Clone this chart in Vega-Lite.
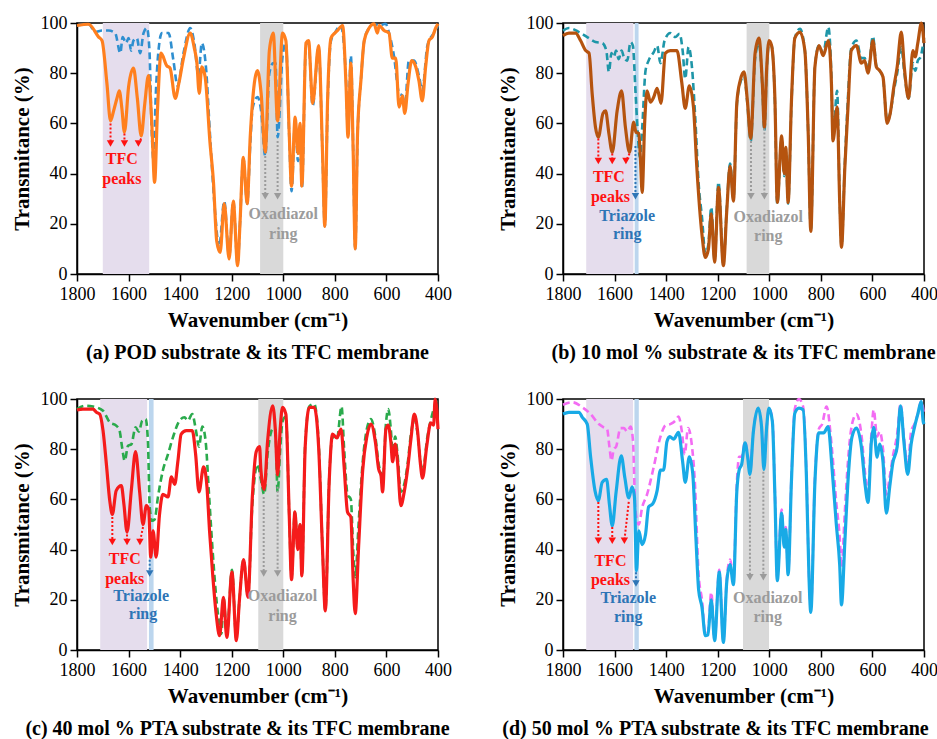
{
"$schema":"https://vega.github.io/schema/vega-lite/v6.json",
"padding":{"left":10,"top":13,"right":5,"bottom":0},
"background":"white",
"config":{
 "font":"Liberation Serif, Times New Roman, serif",
 "view":{"stroke":"black","strokeWidth":1.5},
 "axis":{"grid":false,"domainColor":"black","domainWidth":1.5,"tickColor":"black","tickWidth":1.5,"tickSize":7,"labelFont":"Liberation Serif, Times New Roman, serif","labelFontSize":18,"labelColor":"black","labelFlush":false,"titleFont":"Liberation Serif, Times New Roman, serif","titleFontSize":21,"titleFontWeight":"bold","titleColor":"black","format":"d"},
 "title":{"font":"Liberation Serif, Times New Roman, serif","fontSize":20,"fontWeight":"bold","color":"black"},
 "text":{"font":"Liberation Serif, Times New Roman, serif"},
 "line":{"interpolate":"monotone"}
},
"datasets":{
"bands":[
 {"p":"a","k":"P","a":1700,"b":1520},{"p":"a","k":"G","a":1090,"b":1000},
 {"p":"b","k":"P","a":1710,"b":1527},{"p":"b","k":"B","a":1522,"b":1507},{"p":"b","k":"G","a":1088,"b":1000},
 {"p":"c","k":"P","a":1710,"b":1528},{"p":"c","k":"B","a":1521,"b":1503},{"p":"c","k":"G","a":1097,"b":1000},
 {"p":"d","k":"P","a":1710,"b":1528},{"p":"d","k":"B","a":1523,"b":1506},{"p":"d","k":"G","a":1102,"b":1001}
],
"arrows":[
 {"p":"a","k":"tfc","x":1670,"y":60,"x2":1670,"y2":52},{"p":"a","k":"tfc","x":1616,"y":56,"x2":1616,"y2":52},{"p":"a","k":"tfc","x":1551,"y":54,"x2":1562,"y2":52},
 {"p":"a","k":"oxa","x":1070,"y":47,"x2":1070,"y2":31},{"p":"a","k":"oxa","x":1022,"y":53,"x2":1022,"y2":31},
 {"p":"b","k":"tfc","x":1663,"y":54,"x2":1663,"y2":45},{"p":"b","k":"tfc","x":1609,"y":48,"x2":1609,"y2":45},{"p":"b","k":"tfc","x":1542,"y":48,"x2":1556,"y2":45},
 {"p":"b","k":"tri","x":1519,"y":51,"x2":1519,"y2":31},
 {"p":"b","k":"oxa","x":1071,"y":53,"x2":1071,"y2":31},{"p":"b","k":"oxa","x":1019,"y":58,"x2":1019,"y2":31},
 {"p":"c","k":"tfc","x":1663,"y":53,"x2":1663,"y2":43},{"p":"c","k":"tfc","x":1606,"y":46,"x2":1606,"y2":43},{"p":"c","k":"tfc","x":1544,"y":49,"x2":1556,"y2":43},
 {"p":"c","k":"tri","x":1518,"y":36,"x2":1518,"y2":30.5},
 {"p":"c","k":"oxa","x":1076,"y":61,"x2":1076,"y2":30.5},{"p":"c","k":"oxa","x":1022,"y":65,"x2":1022,"y2":30.5},
 {"p":"d","k":"tfc","x":1663,"y":59,"x2":1663,"y2":43.5},{"p":"d","k":"tfc","x":1609,"y":49,"x2":1609,"y2":43.5},{"p":"d","k":"tfc","x":1545,"y":59,"x2":1562,"y2":43.5},
 {"p":"d","k":"tri","x":1517,"y":31,"x2":1517,"y2":26.5},
 {"p":"d","k":"oxa","x":1075,"y":69,"x2":1075,"y2":29},{"p":"d","k":"oxa","x":1023,"y":71,"x2":1023,"y2":29}
],
"labels":[
 {"p":"a","k":"tfc","x":1626,"y":46,"t":"TFC"},{"p":"a","k":"tfc","x":1626,"y":38,"t":"peaks"},
 {"p":"a","k":"oxa","x":1000,"y":24,"t":"Oxadiazol"},{"p":"a","k":"oxa","x":1000,"y":16,"t":"ring"},
 {"p":"b","k":"tfc","x":1622,"y":38.6,"t":"TFC"},{"p":"b","k":"tfc","x":1616,"y":30.6,"t":"peaks"},
 {"p":"b","k":"tri","x":1551,"y":23.3,"t":"Triazole"},{"p":"b","k":"tri","x":1551,"y":16,"t":"ring"},
 {"p":"b","k":"oxa","x":1004,"y":22.6,"t":"Oxadiazol"},{"p":"b","k":"oxa","x":1004,"y":15.3,"t":"ring"},
 {"p":"c","k":"tfc","x":1615,"y":36.3,"t":"TFC"},{"p":"c","k":"tfc","x":1615,"y":28.3,"t":"peaks"},
 {"p":"c","k":"tri","x":1551,"y":21.6,"t":"Triazole"},{"p":"c","k":"tri","x":1544,"y":14.3,"t":"ring"},
 {"p":"c","k":"oxa","x":1003,"y":21.6,"t":"Oxadiazol"},{"p":"c","k":"oxa","x":1003,"y":13.7,"t":"ring"},
 {"p":"d","k":"tfc","x":1616,"y":35.6,"t":"TFC"},{"p":"d","k":"tfc","x":1616,"y":28,"t":"peaks"},
 {"p":"d","k":"tri","x":1547,"y":20.6,"t":"Triazole"},{"p":"d","k":"tri","x":1547,"y":13,"t":"ring"},
 {"p":"d","k":"oxa","x":1006,"y":20.9,"t":"Oxadiazol"},{"p":"d","k":"oxa","x":1006,"y":13.3,"t":"ring"}
],
"aT":[{"x":1800,"y":99},{"x":1755,"y":99.5},{"x":1716,"y":94.4},{"x":1703,"y":93},{"x":1684,"y":76},{"x":1670,"y":61},{"x":1658,"y":65},{"x":1645,"y":70},{"x":1636,"y":73},{"x":1626,"y":66},{"x":1616,"y":56.5},{"x":1600,"y":74.5},{"x":1581,"y":82},{"x":1566,"y":70},{"x":1551,"y":55},{"x":1537,"y":68},{"x":1523,"y":79},{"x":1510,"y":60},{"x":1499,"y":36.5},{"x":1488,"y":65},{"x":1474,"y":88},{"x":1452,"y":83},{"x":1439,"y":82},{"x":1419,"y":70},{"x":1405,"y":76},{"x":1387,"y":86},{"x":1361,"y":96},{"x":1345,"y":90},{"x":1335,"y":84},{"x":1326,"y":72},{"x":1316,"y":82.5},{"x":1303,"y":78.5},{"x":1284,"y":52},{"x":1271,"y":37},{"x":1258,"y":13},{"x":1245,"y":8.6},{"x":1229,"y":28},{"x":1210,"y":6},{"x":1194,"y":29},{"x":1177,"y":3.3},{"x":1168,"y":20},{"x":1155,"y":46.5},{"x":1140,"y":28},{"x":1128,"y":55},{"x":1119,"y":69},{"x":1100,"y":81},{"x":1086,"y":72},{"x":1070,"y":48.5},{"x":1054,"y":89},{"x":1039,"y":96},{"x":1022,"y":61},{"x":1003,"y":96},{"x":990,"y":93},{"x":977,"y":56},{"x":968,"y":35},{"x":954,"y":62.5},{"x":943,"y":48},{"x":935,"y":60},{"x":928,"y":35},{"x":912,"y":92},{"x":902,"y":93},{"x":886,"y":68},{"x":863,"y":91},{"x":848,"y":49},{"x":839,"y":19},{"x":828,"y":70},{"x":815,"y":94},{"x":800,"y":96},{"x":790,"y":97},{"x":770,"y":99},{"x":757,"y":76},{"x":749,"y":54.5},{"x":738,"y":84},{"x":729,"y":49},{"x":721,"y":10},{"x":712,"y":56},{"x":699,"y":77},{"x":686,"y":93},{"x":667,"y":98},{"x":648,"y":99.7},{"x":635,"y":96},{"x":628,"y":99},{"x":609,"y":97},{"x":590,"y":96},{"x":577,"y":86},{"x":564,"y":86},{"x":551,"y":66.5},{"x":538,"y":71},{"x":529,"y":64},{"x":516,"y":76},{"x":502,"y":85},{"x":486,"y":82.5},{"x":474,"y":77},{"x":461,"y":69},{"x":448,"y":82.5},{"x":435,"y":93},{"x":422,"y":94.4},{"x":409,"y":98},{"x":400,"y":99.7}],
"aS":[{"x":1800,"y":99},{"x":1755,"y":99.5},{"x":1729,"y":96.4},{"x":1703,"y":97},{"x":1677,"y":97},{"x":1652,"y":96},{"x":1632,"y":88},{"x":1623,"y":94.4},{"x":1610,"y":92},{"x":1600,"y":94},{"x":1590,"y":89},{"x":1581,"y":93},{"x":1568,"y":94},{"x":1555,"y":88},{"x":1542,"y":96},{"x":1529,"y":98},{"x":1519,"y":89},{"x":1510,"y":56},{"x":1503,"y":45},{"x":1495,"y":70},{"x":1483,"y":90},{"x":1471,"y":96},{"x":1445,"y":96},{"x":1426,"y":85},{"x":1410,"y":75},{"x":1387,"y":88},{"x":1361,"y":98},{"x":1345,"y":92},{"x":1329,"y":79},{"x":1316,"y":92},{"x":1300,"y":82.5},{"x":1284,"y":55},{"x":1264,"y":24},{"x":1249,"y":10.5},{"x":1229,"y":29},{"x":1210,"y":7},{"x":1194,"y":29},{"x":1177,"y":4},{"x":1168,"y":20},{"x":1155,"y":46},{"x":1140,"y":28},{"x":1128,"y":52},{"x":1119,"y":66},{"x":1100,"y":70.5},{"x":1086,"y":65},{"x":1070,"y":47},{"x":1054,"y":80},{"x":1039,"y":84},{"x":1030,"y":84},{"x":1022,"y":54.5},{"x":1003,"y":86.5},{"x":990,"y":92},{"x":977,"y":55},{"x":968,"y":33},{"x":954,"y":61},{"x":943,"y":45},{"x":935,"y":58},{"x":928,"y":34},{"x":912,"y":91},{"x":902,"y":92},{"x":886,"y":67},{"x":863,"y":90},{"x":848,"y":48},{"x":839,"y":19},{"x":828,"y":68},{"x":815,"y":93},{"x":800,"y":96},{"x":777,"y":99},{"x":757,"y":78},{"x":749,"y":56},{"x":738,"y":87},{"x":729,"y":50},{"x":721,"y":10},{"x":712,"y":55},{"x":699,"y":77},{"x":686,"y":93},{"x":667,"y":98},{"x":648,"y":99.5},{"x":628,"y":99},{"x":603,"y":99.7},{"x":590,"y":96},{"x":571,"y":87},{"x":551,"y":72},{"x":538,"y":71},{"x":529,"y":66},{"x":513,"y":85},{"x":493,"y":85},{"x":474,"y":79},{"x":461,"y":73},{"x":441,"y":91},{"x":416,"y":96},{"x":400,"y":99}],
"bT":[{"x":1800,"y":95},{"x":1777,"y":96},{"x":1751,"y":96},{"x":1732,"y":93},{"x":1712,"y":89},{"x":1699,"y":88},{"x":1687,"y":72},{"x":1674,"y":58.5},{"x":1663,"y":54.5},{"x":1645,"y":64},{"x":1635,"y":65},{"x":1622,"y":56},{"x":1609,"y":48.5},{"x":1590,"y":65},{"x":1573,"y":73},{"x":1558,"y":58.5},{"x":1542,"y":48.5},{"x":1526,"y":60.5},{"x":1517,"y":56.5},{"x":1506,"y":56},{"x":1500,"y":46.5},{"x":1493,"y":32.5},{"x":1483,"y":61},{"x":1474,"y":73},{"x":1461,"y":68.5},{"x":1448,"y":70.5},{"x":1435,"y":74},{"x":1420,"y":68},{"x":1403,"y":88},{"x":1384,"y":89},{"x":1358,"y":89},{"x":1339,"y":76},{"x":1326,"y":66},{"x":1310,"y":75},{"x":1294,"y":66.5},{"x":1281,"y":42.5},{"x":1261,"y":15.7},{"x":1248,"y":6.6},{"x":1236,"y":10},{"x":1225,"y":24},{"x":1212,"y":4.7},{"x":1197,"y":34.5},{"x":1178,"y":3.3},{"x":1165,"y":25},{"x":1152,"y":43},{"x":1139,"y":29},{"x":1126,"y":68},{"x":1113,"y":77},{"x":1098,"y":80.5},{"x":1085,"y":69},{"x":1072,"y":54},{"x":1055,"y":88},{"x":1040,"y":94},{"x":1027,"y":76},{"x":1019,"y":58.5},{"x":1010,"y":82},{"x":1001,"y":93},{"x":991,"y":91},{"x":978,"y":69},{"x":969,"y":28.5},{"x":952,"y":55},{"x":942,"y":40},{"x":936,"y":50.5},{"x":927,"y":28.5},{"x":914,"y":69},{"x":901,"y":94},{"x":881,"y":96.4},{"x":862,"y":89},{"x":849,"y":56},{"x":839,"y":17},{"x":823,"y":82.5},{"x":807,"y":91},{"x":791,"y":87},{"x":771,"y":93},{"x":759,"y":76},{"x":753,"y":53},{"x":737,"y":66.5},{"x":727,"y":29},{"x":720,"y":10.6},{"x":707,"y":42.5},{"x":695,"y":66},{"x":682,"y":89},{"x":662,"y":91},{"x":643,"y":84},{"x":630,"y":85},{"x":617,"y":80},{"x":598,"y":93},{"x":585,"y":82.5},{"x":572,"y":81},{"x":559,"y":78.5},{"x":543,"y":60},{"x":531,"y":64},{"x":517,"y":74.5},{"x":504,"y":82.5},{"x":488,"y":96.4},{"x":476,"y":82},{"x":460,"y":70},{"x":443,"y":89},{"x":434,"y":86.5},{"x":424,"y":92},{"x":410,"y":100},{"x":400,"y":92}],
"bS":[{"x":1800,"y":97},{"x":1777,"y":98},{"x":1738,"y":96.4},{"x":1706,"y":94.4},{"x":1674,"y":92.4},{"x":1648,"y":92},{"x":1632,"y":89},{"x":1622,"y":80.5},{"x":1612,"y":88},{"x":1603,"y":86.5},{"x":1594,"y":89},{"x":1584,"y":85.6},{"x":1573,"y":89},{"x":1564,"y":86.5},{"x":1551,"y":85},{"x":1538,"y":92.4},{"x":1529,"y":91},{"x":1519,"y":73},{"x":1510,"y":56},{"x":1502,"y":46.5},{"x":1493,"y":58},{"x":1480,"y":81},{"x":1468,"y":85},{"x":1448,"y":88.4},{"x":1435,"y":91},{"x":1422,"y":84},{"x":1406,"y":93},{"x":1384,"y":96},{"x":1364,"y":94.4},{"x":1348,"y":95.7},{"x":1336,"y":89},{"x":1326,"y":77.8},{"x":1313,"y":90.4},{"x":1300,"y":82.5},{"x":1287,"y":62},{"x":1274,"y":36},{"x":1261,"y":22.6},{"x":1248,"y":8},{"x":1236,"y":12},{"x":1225,"y":26.6},{"x":1212,"y":5.5},{"x":1197,"y":36.6},{"x":1178,"y":4},{"x":1165,"y":26},{"x":1152,"y":44},{"x":1139,"y":30},{"x":1126,"y":67},{"x":1113,"y":76},{"x":1098,"y":79},{"x":1085,"y":68},{"x":1072,"y":53},{"x":1055,"y":86},{"x":1040,"y":92},{"x":1027,"y":75},{"x":1019,"y":57},{"x":1010,"y":81},{"x":1001,"y":92},{"x":991,"y":91},{"x":978,"y":68},{"x":969,"y":28},{"x":952,"y":54},{"x":942,"y":39},{"x":936,"y":49},{"x":927,"y":28},{"x":914,"y":68},{"x":901,"y":94},{"x":881,"y":97.7},{"x":862,"y":89},{"x":849,"y":56},{"x":839,"y":17},{"x":823,"y":83},{"x":807,"y":91},{"x":791,"y":88},{"x":771,"y":98.4},{"x":759,"y":78},{"x":753,"y":54},{"x":737,"y":73},{"x":727,"y":30},{"x":720,"y":11},{"x":707,"y":44},{"x":695,"y":70},{"x":682,"y":90},{"x":662,"y":93},{"x":643,"y":86},{"x":630,"y":86},{"x":617,"y":81},{"x":598,"y":94.7},{"x":585,"y":83},{"x":572,"y":81},{"x":559,"y":78},{"x":543,"y":61},{"x":531,"y":64},{"x":517,"y":73},{"x":504,"y":80},{"x":488,"y":90.4},{"x":476,"y":80},{"x":460,"y":70},{"x":443,"y":84},{"x":434,"y":81},{"x":424,"y":85},{"x":413,"y":86.5},{"x":403,"y":92},{"x":400,"y":94}],
"cT":[{"x":1800,"y":95.6},{"x":1777,"y":96},{"x":1738,"y":96},{"x":1725,"y":94.7},{"x":1712,"y":94},{"x":1699,"y":87.4},{"x":1686,"y":74},{"x":1673,"y":59.5},{"x":1663,"y":54},{"x":1648,"y":63.5},{"x":1628,"y":65.5},{"x":1618,"y":58},{"x":1606,"y":47},{"x":1589,"y":64},{"x":1573,"y":79},{"x":1557,"y":63},{"x":1544,"y":50},{"x":1531,"y":57.5},{"x":1522,"y":56},{"x":1514,"y":37},{"x":1505,"y":47.5},{"x":1493,"y":37},{"x":1480,"y":54},{"x":1467,"y":62},{"x":1447,"y":61},{"x":1434,"y":69},{"x":1421,"y":66},{"x":1409,"y":75},{"x":1396,"y":86},{"x":1376,"y":87.4},{"x":1353,"y":87.4},{"x":1340,"y":78},{"x":1327,"y":63},{"x":1309,"y":73},{"x":1296,"y":65},{"x":1286,"y":47.5},{"x":1273,"y":29},{"x":1260,"y":14},{"x":1247,"y":5.7},{"x":1232,"y":21},{"x":1219,"y":5},{"x":1199,"y":31},{"x":1182,"y":3.7},{"x":1170,"y":20},{"x":1154,"y":36},{"x":1137,"y":21},{"x":1120,"y":61},{"x":1105,"y":79},{"x":1092,"y":81},{"x":1087,"y":72},{"x":1074,"y":64},{"x":1061,"y":83},{"x":1041,"y":97.3},{"x":1031,"y":88},{"x":1022,"y":69.8},{"x":1012,"y":88},{"x":1003,"y":96.7},{"x":990,"y":94},{"x":977,"y":54},{"x":968,"y":28},{"x":955,"y":55},{"x":944,"y":40},{"x":935,"y":50},{"x":928,"y":29.5},{"x":915,"y":81},{"x":899,"y":96.7},{"x":880,"y":96.7},{"x":863,"y":81},{"x":848,"y":40.5},{"x":837,"y":15.6},{"x":822,"y":67},{"x":809,"y":86},{"x":792,"y":84.5},{"x":776,"y":88},{"x":764,"y":73},{"x":751,"y":55},{"x":738,"y":53},{"x":729,"y":28},{"x":721,"y":14.5},{"x":708,"y":41},{"x":692,"y":71.7},{"x":676,"y":85},{"x":660,"y":90},{"x":643,"y":83},{"x":630,"y":72},{"x":621,"y":69.5},{"x":615,"y":63},{"x":602,"y":88},{"x":593,"y":89.6},{"x":583,"y":83},{"x":576,"y":75},{"x":566,"y":82},{"x":557,"y":75},{"x":544,"y":57.5},{"x":531,"y":63},{"x":518,"y":72},{"x":505,"y":84},{"x":492,"y":94},{"x":479,"y":87},{"x":469,"y":75},{"x":460,"y":68.5},{"x":444,"y":81},{"x":428,"y":90.5},{"x":417,"y":89.6},{"x":411,"y":100},{"x":404,"y":95},{"x":400,"y":88}],
"cS":[{"x":1800,"y":96},{"x":1770,"y":97.3},{"x":1738,"y":97},{"x":1699,"y":95.3},{"x":1673,"y":90.7},{"x":1648,"y":89.4},{"x":1635,"y":87.4},{"x":1625,"y":80.7},{"x":1615,"y":75.4},{"x":1602,"y":81.4},{"x":1589,"y":82},{"x":1573,"y":88.7},{"x":1560,"y":87},{"x":1547,"y":91.4},{"x":1534,"y":92},{"x":1525,"y":83.4},{"x":1518,"y":57},{"x":1509,"y":51.5},{"x":1499,"y":52},{"x":1486,"y":61},{"x":1467,"y":71.5},{"x":1447,"y":78},{"x":1428,"y":84.7},{"x":1402,"y":91.4},{"x":1383,"y":92.7},{"x":1370,"y":91.4},{"x":1353,"y":94},{"x":1338,"y":87},{"x":1327,"y":81},{"x":1314,"y":89},{"x":1301,"y":83},{"x":1288,"y":62},{"x":1273,"y":38},{"x":1253,"y":14},{"x":1240,"y":6.4},{"x":1232,"y":21},{"x":1219,"y":6},{"x":1199,"y":32},{"x":1182,"y":4.5},{"x":1170,"y":20},{"x":1154,"y":36},{"x":1137,"y":22},{"x":1120,"y":58},{"x":1112,"y":68},{"x":1100,"y":74},{"x":1087,"y":68},{"x":1074,"y":62},{"x":1061,"y":78},{"x":1041,"y":88},{"x":1031,"y":88},{"x":1022,"y":63},{"x":1012,"y":80},{"x":1003,"y":91},{"x":990,"y":93},{"x":977,"y":54},{"x":968,"y":29},{"x":955,"y":55},{"x":944,"y":41},{"x":935,"y":50},{"x":928,"y":30},{"x":915,"y":82},{"x":899,"y":97},{"x":880,"y":98},{"x":863,"y":83},{"x":848,"y":41},{"x":837,"y":16},{"x":822,"y":68},{"x":809,"y":85},{"x":792,"y":84},{"x":774,"y":97},{"x":764,"y":80},{"x":751,"y":62},{"x":738,"y":60},{"x":729,"y":40},{"x":721,"y":29},{"x":708,"y":50},{"x":692,"y":75},{"x":676,"y":88},{"x":660,"y":92},{"x":643,"y":85},{"x":630,"y":74},{"x":621,"y":70},{"x":615,"y":66},{"x":602,"y":90},{"x":593,"y":96},{"x":583,"y":88},{"x":576,"y":79},{"x":566,"y":85},{"x":557,"y":78},{"x":544,"y":63},{"x":531,"y":66},{"x":518,"y":74},{"x":505,"y":86},{"x":492,"y":92},{"x":479,"y":86},{"x":469,"y":76},{"x":460,"y":71},{"x":441,"y":85},{"x":422,"y":94},{"x":411,"y":98},{"x":400,"y":100}],
"dT":[{"x":1800,"y":94},{"x":1777,"y":94.7},{"x":1738,"y":94.7},{"x":1725,"y":92.7},{"x":1706,"y":90},{"x":1693,"y":77},{"x":1676,"y":63.5},{"x":1663,"y":59.5},{"x":1648,"y":66.8},{"x":1631,"y":68},{"x":1620,"y":58},{"x":1609,"y":49.5},{"x":1594,"y":63},{"x":1574,"y":77.4},{"x":1560,"y":68.5},{"x":1545,"y":60.6},{"x":1532,"y":65},{"x":1523,"y":61},{"x":1515,"y":31.6},{"x":1506,"y":47.5},{"x":1493,"y":42},{"x":1480,"y":46},{"x":1468,"y":57},{"x":1451,"y":58.4},{"x":1435,"y":63.5},{"x":1422,"y":71.7},{"x":1410,"y":71.7},{"x":1397,"y":83},{"x":1386,"y":85},{"x":1371,"y":84},{"x":1352,"y":86.7},{"x":1336,"y":75},{"x":1326,"y":66.8},{"x":1310,"y":77},{"x":1297,"y":70.5},{"x":1284,"y":43.5},{"x":1274,"y":24},{"x":1261,"y":17},{"x":1248,"y":5.7},{"x":1238,"y":6},{"x":1225,"y":20},{"x":1212,"y":3.7},{"x":1194,"y":31},{"x":1178,"y":3},{"x":1165,"y":27},{"x":1152,"y":34},{"x":1139,"y":26},{"x":1126,"y":63},{"x":1117,"y":71.7},{"x":1107,"y":74},{"x":1094,"y":82.5},{"x":1084,"y":77},{"x":1075,"y":70},{"x":1062,"y":86.7},{"x":1043,"y":96.4},{"x":1030,"y":89},{"x":1021,"y":72},{"x":1010,"y":89},{"x":1001,"y":96.4},{"x":988,"y":91},{"x":978,"y":60.8},{"x":969,"y":27.6},{"x":952,"y":54.5},{"x":942,"y":41},{"x":936,"y":48},{"x":927,"y":30},{"x":914,"y":67.5},{"x":901,"y":94.4},{"x":885,"y":96.4},{"x":869,"y":95.7},{"x":856,"y":69},{"x":846,"y":29},{"x":839,"y":15},{"x":823,"y":67},{"x":808,"y":86.5},{"x":789,"y":86.5},{"x":772,"y":89},{"x":757,"y":73},{"x":740,"y":50},{"x":727,"y":34},{"x":720,"y":18},{"x":707,"y":43},{"x":695,"y":67},{"x":679,"y":85},{"x":662,"y":88.4},{"x":643,"y":81},{"x":628,"y":65.5},{"x":617,"y":58.8},{"x":604,"y":83},{"x":595,"y":88.7},{"x":582,"y":76.8},{"x":572,"y":82},{"x":559,"y":75},{"x":546,"y":54.5},{"x":533,"y":65},{"x":521,"y":74.5},{"x":504,"y":81},{"x":491,"y":97.3},{"x":478,"y":83},{"x":463,"y":70},{"x":450,"y":82},{"x":437,"y":88.7},{"x":424,"y":94},{"x":411,"y":99},{"x":403,"y":91},{"x":400,"y":90}],
"dS":[{"x":1800,"y":97.7},{"x":1764,"y":98.7},{"x":1725,"y":96.7},{"x":1693,"y":94},{"x":1661,"y":90},{"x":1642,"y":88.7},{"x":1629,"y":88},{"x":1620,"y":81},{"x":1612,"y":75.4},{"x":1603,"y":80},{"x":1594,"y":81},{"x":1577,"y":88.4},{"x":1564,"y":88.4},{"x":1551,"y":87},{"x":1538,"y":89},{"x":1529,"y":84},{"x":1519,"y":55.5},{"x":1506,"y":50},{"x":1493,"y":56.8},{"x":1474,"y":62},{"x":1448,"y":73},{"x":1422,"y":85},{"x":1403,"y":89.4},{"x":1384,"y":90},{"x":1364,"y":91.4},{"x":1352,"y":93},{"x":1339,"y":87},{"x":1328,"y":78},{"x":1315,"y":88.4},{"x":1302,"y":83},{"x":1289,"y":67.5},{"x":1274,"y":30},{"x":1261,"y":20},{"x":1248,"y":6.5},{"x":1238,"y":7},{"x":1225,"y":23},{"x":1212,"y":4.5},{"x":1194,"y":32},{"x":1178,"y":4},{"x":1165,"y":28},{"x":1152,"y":36},{"x":1139,"y":28},{"x":1126,"y":66},{"x":1117,"y":77},{"x":1107,"y":77},{"x":1094,"y":83},{"x":1084,"y":78},{"x":1075,"y":71},{"x":1062,"y":87},{"x":1043,"y":96},{"x":1030,"y":89},{"x":1021,"y":73},{"x":1010,"y":89},{"x":1001,"y":96},{"x":988,"y":92},{"x":978,"y":62},{"x":969,"y":29},{"x":952,"y":56},{"x":942,"y":42},{"x":936,"y":49},{"x":927,"y":31},{"x":914,"y":69},{"x":901,"y":96},{"x":885,"y":100},{"x":869,"y":97},{"x":856,"y":70},{"x":846,"y":30},{"x":839,"y":16},{"x":823,"y":68},{"x":808,"y":88},{"x":795,"y":90},{"x":778,"y":97},{"x":757,"y":80},{"x":740,"y":58.5},{"x":727,"y":45},{"x":720,"y":33},{"x":707,"y":55},{"x":695,"y":75},{"x":679,"y":90},{"x":662,"y":94},{"x":643,"y":86},{"x":628,"y":70},{"x":617,"y":63},{"x":604,"y":86},{"x":595,"y":95.7},{"x":582,"y":85},{"x":572,"y":87},{"x":559,"y":80},{"x":546,"y":62},{"x":533,"y":69},{"x":521,"y":77},{"x":504,"y":86},{"x":491,"y":98},{"x":478,"y":85},{"x":463,"y":73},{"x":450,"y":87},{"x":437,"y":90},{"x":424,"y":94},{"x":411,"y":99},{"x":400,"y":94}]
},
"columns":2,
"spacing":{"row":125,"column":125},
"bounds":"flush",
"concat":[
{"width":361,"height":251,
 "title":{"text":"(a) POD substrate & its TFC membrane","orient":"bottom","frame":"group","anchor":"middle","offset":13},
 "layer":[
  {"data":{"name":"bands"},"transform":[{"filter":"datum.p=='a'"}],"mark":{"type":"rect"},"encoding":{"x":{"field":"a","type":"quantitative","scale":{"domain":[400,1800],"reverse":true,"nice":false,"zero":false},"axis":{"values":[1800,1600,1400,1200,1000,800,600,400],"title":"Wavenumber (cm⁻¹)","labelPadding":4,"titlePadding":6}},"x2":{"field":"b"},"color":{"field":"k","type":"nominal","scale":{"domain":["P","B","G","tfc","tri","oxa"],"range":["#e5dded","#bcd6ee","#d9d9d9","#ff1111","#2e75b6","#9b9b9b"]},"legend":null}}},
  {"data":{"name":"aS"},"mark":{"type":"line","color":"#2f8fd0","strokeWidth":2.6,"strokeDash":[7,4]},"encoding":{"x":{"field":"x","type":"quantitative"},"y":{"field":"y","type":"quantitative","scale":{"domain":[0,100],"nice":false},"axis":{"values":[0,20,40,60,80,100],"title":"Transmitance (%)","labelPadding":3,"titlePadding":8}}}},
  {"data":{"name":"aT"},"mark":{"type":"line","color":"#ff7f1e","strokeWidth":3.2},"encoding":{"x":{"field":"x","type":"quantitative"},"y":{"field":"y","type":"quantitative"}}},
  {"data":{"name":"arrows"},"transform":[{"filter":"datum.p=='a'"}],"mark":{"type":"rule","strokeWidth":2,"strokeDash":[2,2]},"encoding":{"x":{"field":"x","type":"quantitative"},"y":{"field":"y","type":"quantitative"},"x2":{"field":"x2"},"y2":{"field":"y2"},"color":{"field":"k","type":"nominal","legend":null}}},
  {"data":{"name":"arrows"},"transform":[{"filter":"datum.p=='a'"}],"mark":{"type":"point","shape":"triangle-down","filled":true,"size":55,"opacity":1},"encoding":{"x":{"field":"x2","type":"quantitative"},"y":{"field":"y2","type":"quantitative"},"color":{"field":"k","type":"nominal","legend":null}}},
  {"data":{"name":"labels"},"transform":[{"filter":"datum.p=='a'"}],"mark":{"type":"text","font":"Liberation Serif, Times New Roman, serif","fontWeight":"bold","fontSize":16,"align":"center","baseline":"middle"},"encoding":{"x":{"field":"x","type":"quantitative"},"y":{"field":"y","type":"quantitative"},"text":{"field":"t"},"color":{"field":"k","type":"nominal","legend":null}}}
 ]},
{"width":361,"height":251,
 "title":{"text":"(b) 10 mol % substrate & its TFC membrane","orient":"bottom","frame":"group","anchor":"middle","offset":13},
 "layer":[
  {"data":{"name":"bands"},"transform":[{"filter":"datum.p=='b'"}],"mark":{"type":"rect"},"encoding":{"x":{"field":"a","type":"quantitative","scale":{"domain":[400,1800],"reverse":true,"nice":false,"zero":false},"axis":{"values":[1800,1600,1400,1200,1000,800,600,400],"title":"Wavenumber (cm⁻¹)","labelPadding":4,"titlePadding":6}},"x2":{"field":"b"},"color":{"field":"k","type":"nominal","scale":{"domain":["P","B","G","tfc","tri","oxa"],"range":["#e5dded","#bcd6ee","#d9d9d9","#ff1111","#2e75b6","#9b9b9b"]},"legend":null}}},
  {"data":{"name":"bS"},"mark":{"type":"line","color":"#1e96a8","strokeWidth":2.6,"strokeDash":[7,4]},"encoding":{"x":{"field":"x","type":"quantitative"},"y":{"field":"y","type":"quantitative","scale":{"domain":[0,100],"nice":false},"axis":{"values":[0,20,40,60,80,100],"title":"Transmitance (%)","labelPadding":3,"titlePadding":8}}}},
  {"data":{"name":"bT"},"mark":{"type":"line","color":"#b5530f","strokeWidth":3.2},"encoding":{"x":{"field":"x","type":"quantitative"},"y":{"field":"y","type":"quantitative"}}},
  {"data":{"name":"arrows"},"transform":[{"filter":"datum.p=='b'"}],"mark":{"type":"rule","strokeWidth":2,"strokeDash":[2,2]},"encoding":{"x":{"field":"x","type":"quantitative"},"y":{"field":"y","type":"quantitative"},"x2":{"field":"x2"},"y2":{"field":"y2"},"color":{"field":"k","type":"nominal","legend":null}}},
  {"data":{"name":"arrows"},"transform":[{"filter":"datum.p=='b'"}],"mark":{"type":"point","shape":"triangle-down","filled":true,"size":55,"opacity":1},"encoding":{"x":{"field":"x2","type":"quantitative"},"y":{"field":"y2","type":"quantitative"},"color":{"field":"k","type":"nominal","legend":null}}},
  {"data":{"name":"labels"},"transform":[{"filter":"datum.p=='b'"}],"mark":{"type":"text","font":"Liberation Serif, Times New Roman, serif","fontWeight":"bold","fontSize":16,"align":"center","baseline":"middle"},"encoding":{"x":{"field":"x","type":"quantitative"},"y":{"field":"y","type":"quantitative"},"text":{"field":"t"},"color":{"field":"k","type":"nominal","legend":null}}}
 ]},
{"width":361,"height":251,
 "title":{"text":"(c) 40 mol % PTA substrate & its TFC membrane","orient":"bottom","frame":"group","anchor":"middle","offset":13,"dx":-20},
 "layer":[
  {"data":{"name":"bands"},"transform":[{"filter":"datum.p=='c'"}],"mark":{"type":"rect"},"encoding":{"x":{"field":"a","type":"quantitative","scale":{"domain":[400,1800],"reverse":true,"nice":false,"zero":false},"axis":{"values":[1800,1600,1400,1200,1000,800,600,400],"title":"Wavenumber (cm⁻¹)","labelPadding":4,"titlePadding":6}},"x2":{"field":"b"},"color":{"field":"k","type":"nominal","scale":{"domain":["P","B","G","tfc","tri","oxa"],"range":["#e5dded","#bcd6ee","#d9d9d9","#ff1111","#2e75b6","#9b9b9b"]},"legend":null}}},
  {"data":{"name":"cS"},"mark":{"type":"line","color":"#2aaa4c","strokeWidth":2.6,"strokeDash":[7,4]},"encoding":{"x":{"field":"x","type":"quantitative"},"y":{"field":"y","type":"quantitative","scale":{"domain":[0,100],"nice":false},"axis":{"values":[0,20,40,60,80,100],"title":"Transmitance (%)","labelPadding":3,"titlePadding":8}}}},
  {"data":{"name":"cT"},"mark":{"type":"line","color":"#f51b1b","strokeWidth":3.2},"encoding":{"x":{"field":"x","type":"quantitative"},"y":{"field":"y","type":"quantitative"}}},
  {"data":{"name":"arrows"},"transform":[{"filter":"datum.p=='c'"}],"mark":{"type":"rule","strokeWidth":2,"strokeDash":[2,2]},"encoding":{"x":{"field":"x","type":"quantitative"},"y":{"field":"y","type":"quantitative"},"x2":{"field":"x2"},"y2":{"field":"y2"},"color":{"field":"k","type":"nominal","legend":null}}},
  {"data":{"name":"arrows"},"transform":[{"filter":"datum.p=='c'"}],"mark":{"type":"point","shape":"triangle-down","filled":true,"size":55,"opacity":1},"encoding":{"x":{"field":"x2","type":"quantitative"},"y":{"field":"y2","type":"quantitative"},"color":{"field":"k","type":"nominal","legend":null}}},
  {"data":{"name":"labels"},"transform":[{"filter":"datum.p=='c'"}],"mark":{"type":"text","font":"Liberation Serif, Times New Roman, serif","fontWeight":"bold","fontSize":16,"align":"center","baseline":"middle"},"encoding":{"x":{"field":"x","type":"quantitative"},"y":{"field":"y","type":"quantitative"},"text":{"field":"t"},"color":{"field":"k","type":"nominal","legend":null}}}
 ]},
{"width":361,"height":251,
 "title":{"text":"(d) 50 mol % PTA substrate & its TFC membrane","orient":"bottom","frame":"group","anchor":"middle","offset":13,"dx":-28},
 "layer":[
  {"data":{"name":"bands"},"transform":[{"filter":"datum.p=='d'"}],"mark":{"type":"rect"},"encoding":{"x":{"field":"a","type":"quantitative","scale":{"domain":[400,1800],"reverse":true,"nice":false,"zero":false},"axis":{"values":[1800,1600,1400,1200,1000,800,600,400],"title":"Wavenumber (cm⁻¹)","labelPadding":4,"titlePadding":6}},"x2":{"field":"b"},"color":{"field":"k","type":"nominal","scale":{"domain":["P","B","G","tfc","tri","oxa"],"range":["#e5dded","#bcd6ee","#d9d9d9","#ff1111","#2e75b6","#9b9b9b"]},"legend":null}}},
  {"data":{"name":"dS"},"mark":{"type":"line","color":"#f36cf3","strokeWidth":2.6,"strokeDash":[7,4]},"encoding":{"x":{"field":"x","type":"quantitative"},"y":{"field":"y","type":"quantitative","scale":{"domain":[0,100],"nice":false},"axis":{"values":[0,20,40,60,80,100],"title":"Transmitance (%)","labelPadding":3,"titlePadding":8}}}},
  {"data":{"name":"dT"},"mark":{"type":"line","color":"#18aae6","strokeWidth":3.2},"encoding":{"x":{"field":"x","type":"quantitative"},"y":{"field":"y","type":"quantitative"}}},
  {"data":{"name":"arrows"},"transform":[{"filter":"datum.p=='d'"}],"mark":{"type":"rule","strokeWidth":2,"strokeDash":[2,2]},"encoding":{"x":{"field":"x","type":"quantitative"},"y":{"field":"y","type":"quantitative"},"x2":{"field":"x2"},"y2":{"field":"y2"},"color":{"field":"k","type":"nominal","legend":null}}},
  {"data":{"name":"arrows"},"transform":[{"filter":"datum.p=='d'"}],"mark":{"type":"point","shape":"triangle-down","filled":true,"size":55,"opacity":1},"encoding":{"x":{"field":"x2","type":"quantitative"},"y":{"field":"y2","type":"quantitative"},"color":{"field":"k","type":"nominal","legend":null}}},
  {"data":{"name":"labels"},"transform":[{"filter":"datum.p=='d'"}],"mark":{"type":"text","font":"Liberation Serif, Times New Roman, serif","fontWeight":"bold","fontSize":16,"align":"center","baseline":"middle"},"encoding":{"x":{"field":"x","type":"quantitative"},"y":{"field":"y","type":"quantitative"},"text":{"field":"t"},"color":{"field":"k","type":"nominal","legend":null}}}
 ]}
]
}
